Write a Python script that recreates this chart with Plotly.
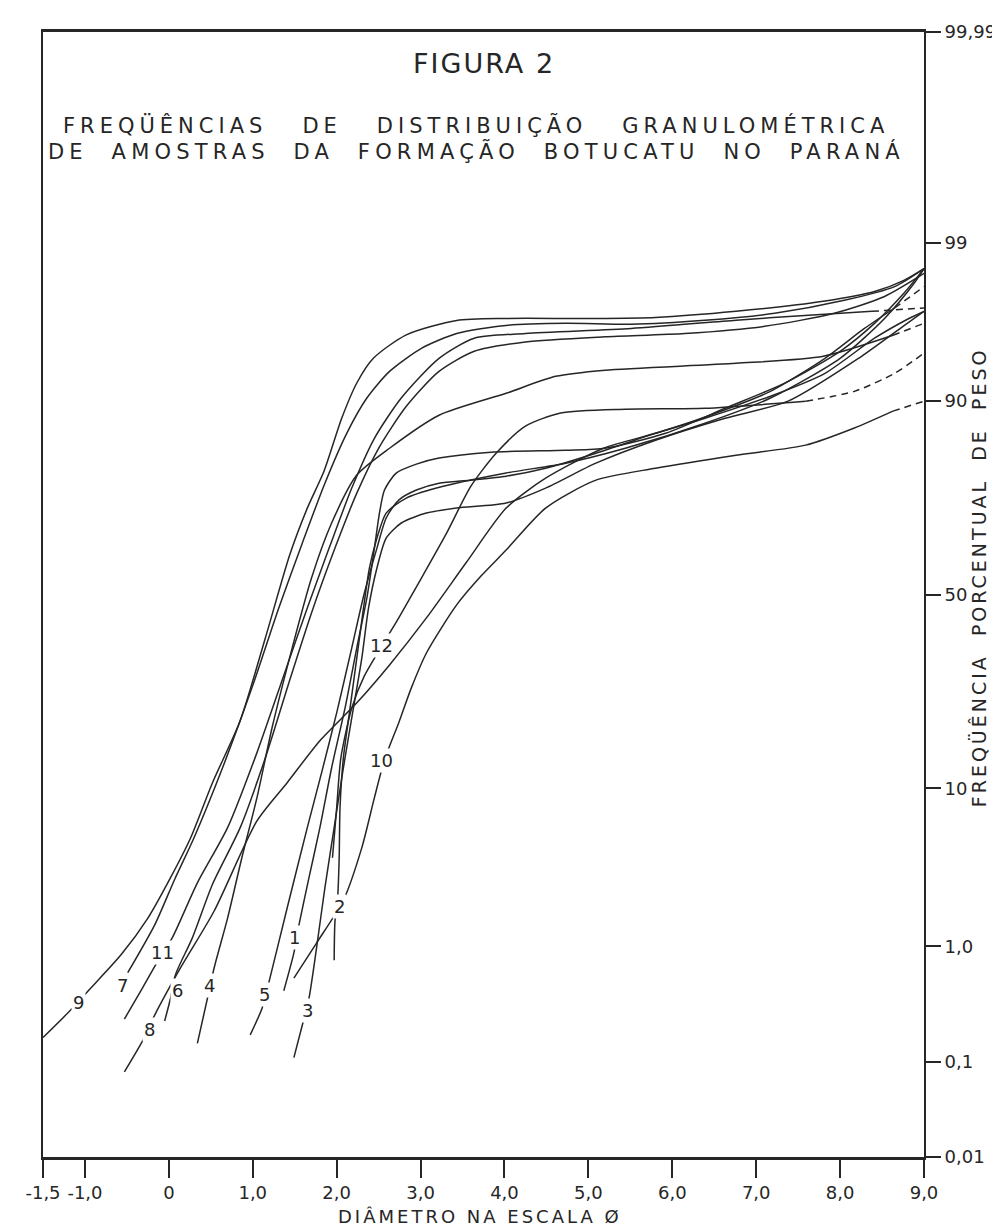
import plotly.graph_objects as go
from statistics import NormalDist

# ---------------- data (phi diameter, cumulative weight %) ----------------
c9_phi = [-1.5, -1.17, -0.96, -0.57, -0.25, 0.02, 0.26, 0.52, 0.85, 1.15, 1.44, 1.65, 1.85, 2.06, 2.24, 2.44, 2.83, 3.43, 4.02, 5.0, 5.8, 6.76, 7.8, 8.42, 8.76, 9.0]
c9_pct = [0.17, 0.30, 0.44, 0.86, 1.62, 3.06, 5.39, 10.67, 20.2, 38.7, 60.3, 71.6, 79.3, 87.8, 91.9, 94.1, 95.7, 96.5, 96.6, 96.6, 96.65, 96.94, 97.37, 97.75, 98.11, 98.44]

c7_phi = [-0.49, -0.17, 0.07, 0.30, 0.64, 0.99, 1.31, 1.59, 1.86, 2.12, 2.36, 2.63, 3.01, 3.43, 4.02, 4.73, 5.51, 6.39, 7.22, 8.05, 8.65, 9.0]
c7_pct = [0.62, 1.44, 2.99, 5.39, 12.6, 26.85, 46.46, 63.29, 76.91, 85.67, 90.3, 92.99, 94.82, 95.78, 96.24, 96.35, 96.3, 96.51, 96.85, 97.41, 97.91, 98.44]

c11_phi = [-0.53, -0.31, -0.13, 0.04, 0.34, 0.70, 1.05, 1.38, 1.65, 1.91, 2.18, 2.45, 2.77, 3.22, 3.64, 4.25, 5.51, 6.76, 7.58, 8.38, 9.0]
c11_pct = [0.25, 0.47, 0.77, 1.16, 2.83, 6.16, 14.79, 30.2, 46.46, 62.05, 75.92, 84.91, 90.3, 94.08, 95.49, 95.78, 96.07, 96.51, 96.75, 96.94, 97.09]

c6_phi = [-0.05, 0.02, 0.08, 0.28, 0.52, 0.85, 1.15, 1.43, 1.70, 1.98, 2.24, 2.50, 2.83, 3.22, 3.64, 4.25, 5.20, 6.15, 7.10, 7.93, 8.53, 9.0]
c6_pct = [0.24, 0.38, 0.60, 1.16, 2.77, 6.16, 14.01, 27.94, 45.15, 62.05, 74.86, 83.32, 89.33, 92.99, 94.61, 95.25, 95.58, 95.78, 96.19, 96.85, 97.56, 98.31]

c4_phi = [0.34, 0.46, 0.54, 0.70, 0.87, 1.05, 1.23, 1.47, 1.70, 1.94, 2.24, 2.63, 3.22, 4.02, 4.61, 5.20, 6.76, 7.80, 8.63, 9.0]
c4_pct = [0.15, 0.38, 0.68, 1.62, 4.09, 8.96, 18.91, 36.22, 54.34, 68.18, 78.51, 83.32, 88.2, 90.83, 92.54, 93.1, 93.68, 94.24, 95.67, 96.35]

c8_phi = [-0.53, -0.31, -0.17, 0.14, 0.54, 1.05, 1.41, 1.80, 2.24, 2.63, 3.07, 3.54, 4.02, 4.49, 5.18, 5.80, 6.35, 7.17, 7.82, 8.29, 8.65, 9.0]
c8_pct = [0.08, 0.16, 0.27, 0.68, 1.82, 6.72, 10.67, 16.68, 23.69, 32.08, 43.85, 58.24, 71.61, 77.91, 83.32, 85.67, 87.81, 91.04, 94.08, 96.07, 97.09, 97.91]

c5_phi = [0.97, 1.11, 1.19, 1.41, 1.65, 1.82, 2.00, 2.18, 2.33, 2.48, 2.59, 2.74, 2.95, 3.22, 3.59, 4.02, 4.49, 5.09, 5.80, 6.39, 7.17, 7.82, 8.41, 8.82, 9.0]
c5_pct = [0.18, 0.31, 0.51, 1.91, 6.16, 11.92, 21.7, 36.22, 50.4, 62.05, 69.36, 73.38, 75.51, 76.91, 77.52, 78.3, 79.81, 82.48, 85.67, 87.81, 90.51, 92.82, 95.49, 96.6, 96.94]

c1_phi = [1.37, 1.49, 1.55, 1.67, 1.80, 1.94, 2.10, 2.24, 2.36, 2.45, 2.51, 2.57, 2.71, 2.95, 3.22, 3.84, 4.73, 5.20, 5.92, 6.63, 7.34, 8.00, 8.41, 8.76, 9.0]
c1_pct = [0.44, 0.89, 1.44, 3.06, 6.16, 12.6, 22.66, 36.22, 49.08, 62.05, 70.48, 75.51, 78.9, 80.56, 81.64, 82.66, 82.99, 83.32, 85.67, 89.09, 91.89, 94.61, 96.35, 97.68, 98.44]

c3_phi = [1.49, 1.59, 1.67, 1.76, 1.86, 1.97, 2.08, 2.20, 2.30, 2.38, 2.48, 2.59, 2.77, 3.07, 3.43, 4.02, 4.49, 5.09, 5.80, 6.63, 7.38, 8.22, 8.75, 9.0]
c3_pct = [0.11, 0.22, 0.38, 0.97, 2.63, 6.16, 12.6, 22.66, 33.74, 46.46, 56.94, 64.53, 68.18, 70.48, 71.61, 72.73, 75.91, 80.74, 84.61, 87.81, 89.94, 94.08, 96.19, 96.94]

c2_phi = [1.97, 1.98, 2.01, 2.03, 2.04, 2.08, 2.16, 2.24, 2.32, 2.39, 2.48, 2.59, 2.83, 3.19, 4.02, 4.73, 5.44, 6.39, 7.17, 8.00, 8.53, 8.88, 9.0]
c2_pct = [0.78, 1.54, 2.16, 4.09, 7.92, 14.01, 22.66, 33.74, 46.46, 56.94, 64.53, 70.48, 73.8, 75.92, 78.9, 80.74, 83.32, 87.13, 90.3, 94.08, 96.6, 98.01, 98.44]

c12_phi = [1.95, 2.00, 2.05, 2.18, 2.33, 2.74, 3.01, 3.31, 3.60, 3.90, 4.25, 4.67, 5.44, 6.39, 7.59, 8.17, 8.65, 9.0]
c12_pct = [4.09, 7.92, 14.01, 22.66, 29.52, 43.85, 54.34, 65.76, 76.31, 82.48, 86.72, 88.49, 88.97, 89.09, 89.94, 91.04, 92.82, 94.47]

c10_phi = [1.49, 1.76, 2.08, 2.30, 2.45, 2.57, 2.74, 2.89, 3.07, 3.43, 3.72, 4.02, 4.49, 5.09, 5.80, 6.76, 7.59, 8.17, 8.63, 9.0]
c10_pct = [0.56, 1.06, 2.16, 4.71, 8.96, 13.71, 19.83, 26.85, 34.95, 47.25, 54.85, 61.56, 71.61, 77.52, 79.81, 82.15, 83.83, 86.45, 88.73, 89.94]

curve_names = ["9", "7", "11", "6", "4", "8", "5", "1", "3", "2", "12", "10"]
curve_phi = [c9_phi, c7_phi, c11_phi, c6_phi, c4_phi, c8_phi, c5_phi, c1_phi, c3_phi, c2_phi, c12_phi, c10_phi]
curve_pct = [c9_pct, c7_pct, c11_pct, c6_pct, c4_pct, c8_pct, c5_pct, c1_pct, c3_pct, c2_pct, c12_pct, c10_pct]

# index from which the (extrapolated) end of a curve is dashed
dash_from = {"11": 19, "4": 18, "8": 20, "12": 14, "10": 18}

# curve number labels
label_text = ["9", "7", "11", "8", "6", "4", "5", "1", "3", "2", "12", "10"]
label_phi = [-1.08, -0.55, -0.08, -0.23, 0.10, 0.48, 1.14, 1.50, 1.65, 2.03, 2.54, 2.54]
label_pct = [0.35, 0.49, 0.89, 0.20, 0.44, 0.49, 0.41, 1.16, 0.30, 1.97, 36.7, 13.6]

x_tick_vals = [-1.5, -1.0, 0, 1, 2, 3, 4, 5, 6, 7, 8, 9]
x_tick_text = ["-1,5", "-1,0", "0", "1,0", "2,0", "3,0", "4,0", "5,0", "6,0", "7,0", "8,0", "9,0"]
y_tick_vals = [0.01, 0.1, 1.0, 10, 50, 90, 99, 99.99]
y_tick_text = ["0,01", "0,1", "1,0", "10", "50", "90", "99", "99,99"]

# ---------------- probability scale ----------------
ND = NormalDist()


def prob(p):
    return ND.inv_cdf(p / 100.0)


INK = "#262626"
FONT = "DejaVu Sans"
fig = go.Figure()

for name, xs, ps in zip(curve_names, curve_phi, curve_pct):
    zs = [prob(p) for p in ps]
    k = dash_from.get(name, len(xs) - 1)
    fig.add_trace(go.Scatter(x=xs[:k + 1], y=zs[:k + 1], mode="lines",
                             line=dict(color=INK, width=1.5, shape="spline", smoothing=0.7),
                             hoverinfo="skip", name=name))
    if k < len(xs) - 1:
        fig.add_trace(go.Scatter(x=xs[k:], y=zs[k:], mode="lines",
                                 line=dict(color=INK, width=1.5, dash="7px,5px",
                                           shape="spline", smoothing=0.7),
                                 hoverinfo="skip", name=name + " (ext.)"))

for t, xv, pv in zip(label_text, label_phi, label_pct):
    fig.add_annotation(x=xv, y=prob(pv), text=t, showarrow=False,
                       xanchor="center", yanchor="middle",
                       font=dict(family=FONT, size=18, color=INK),
                       bgcolor="white", borderpad=1)


def spaced(s, px):
    return f'<span style="letter-spacing:{px}px">{s}</span>'


nb = "\u00a0"
title1 = "FIGURA 2"
title2 = f"FREQÜÊNCIAS{nb*3}DE{nb*3}DISTRIBUIÇÃO{nb*3}GRANULOMÉTRICA"
title3 = f"DE{nb*2}AMOSTRAS{nb*2}DA{nb*2}FORMAÇÃO{nb*2}BOTUCATU{nb*2}NO{nb*2}PARANÁ"
xtitle = "DIÂMETRO NA ESCALA Ø"
ytitle = f"FREQÜÊNCIA{nb*2}PORCENTUAL{nb*2}DE{nb*2}PESO"

fig.add_annotation(xref="paper", yref="paper", x=0.50, y=0.9724, text=spaced(title1, 2),
                   xanchor="center", yanchor="middle",
                   showarrow=False, font=dict(family=FONT, size=27, color=INK))
fig.add_annotation(xref="paper", yref="paper", x=0.492, y=0.9173, text=spaced(title2, 5),
                   xanchor="center", yanchor="middle",
                   showarrow=False, font=dict(family=FONT, size=21, color=INK))
fig.add_annotation(xref="paper", yref="paper", x=0.492, y=0.8942, text=spaced(title3, 5.2),
                   xanchor="center", yanchor="middle",
                   showarrow=False, font=dict(family=FONT, size=21, color=INK))
fig.add_annotation(xref="paper", yref="paper", x=0.496, y=-0.053,
                   xanchor="center", yanchor="middle",
                   text=spaced(xtitle, 3), showarrow=False,
                   font=dict(family=FONT, size=18, color=INK))
fig.add_annotation(xref="paper", yref="paper", x=1.062, y=0.515, textangle=-90,
                   xanchor="center", yanchor="middle",
                   text=spaced(ytitle, 3), showarrow=False,
                   font=dict(family=FONT, size=19, color=INK))

fig.update_layout(
    width=1000, height=1229,
    margin=dict(l=35, r=78, t=24, b=80),
    plot_bgcolor="white", paper_bgcolor="white",
    showlegend=False,
    xaxis=dict(range=[-1.5, 9.0], tickvals=x_tick_vals, ticktext=x_tick_text,
               ticks="outside", ticklen=18, tickwidth=2, tickcolor=INK,
               showline=True, linewidth=2.5, linecolor=INK, mirror=True,
               showgrid=False, zeroline=False,
               tickfont=dict(family=FONT, size=18, color=INK)),
    yaxis=dict(side="right", range=[prob(0.01), prob(99.99)],
               tickvals=[prob(v) for v in y_tick_vals], ticktext=y_tick_text,
               ticks="outside", ticklen=15, tickwidth=2, tickcolor=INK,
               showline=True, linewidth=2, linecolor=INK, mirror=True,
               showgrid=False, zeroline=False,
               tickfont=dict(family=FONT, size=18, color=INK)),
)

fig.write_html("out.html")
